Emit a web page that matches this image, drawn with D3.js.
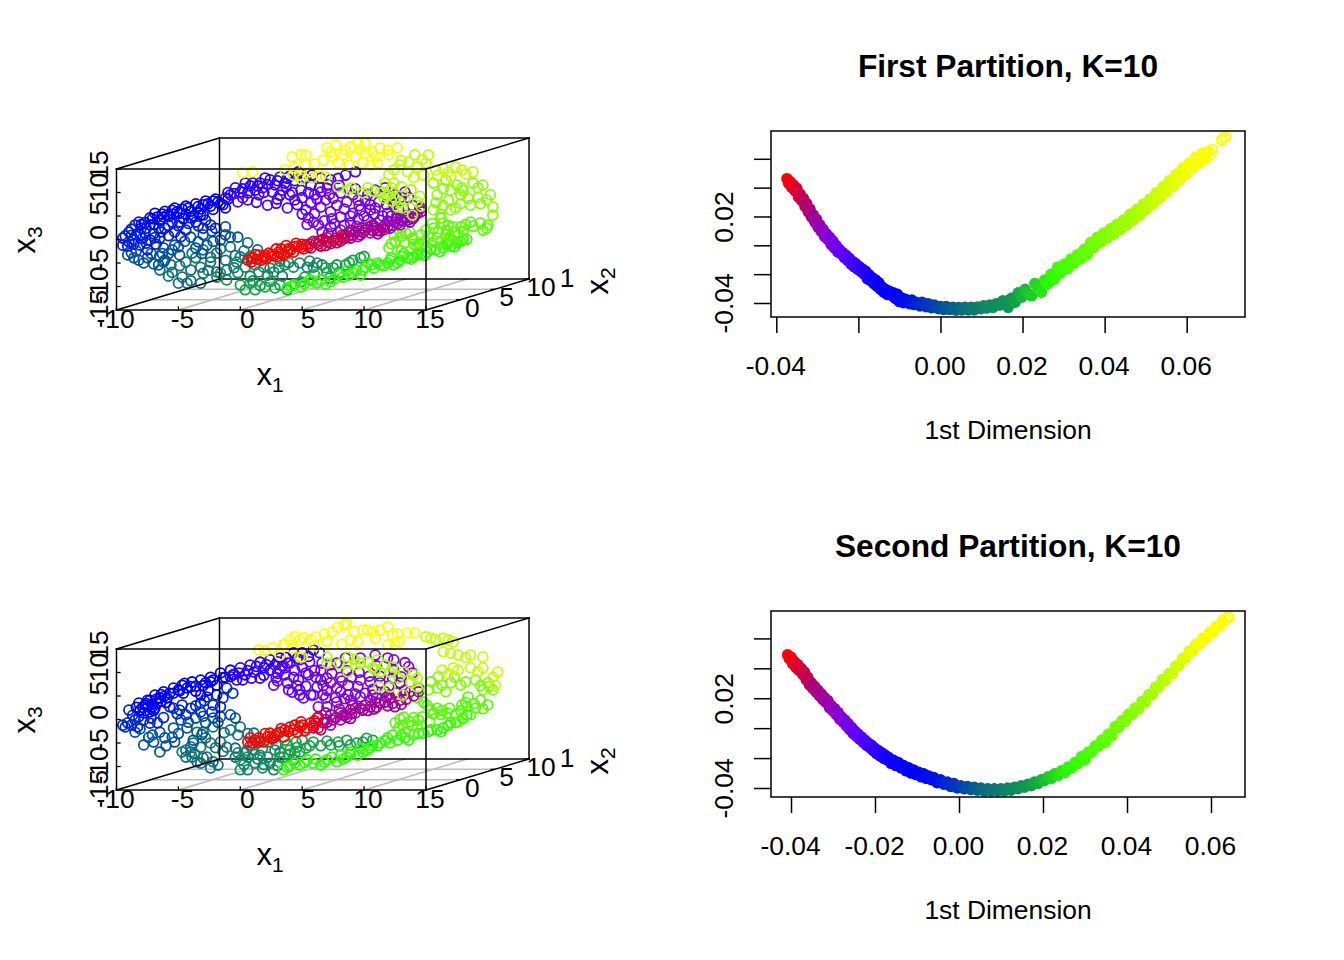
<!DOCTYPE html>
<html><head><meta charset="utf-8">
<script src="https://cdn.jsdelivr.net/npm/d3@7/dist/d3.min.js"></script>
<style>html,body{margin:0;background:#fff}svg{display:block}text{font-family:"Liberation Sans",Arial,sans-serif;fill:#000}</style>
</head><body><svg id="c" width="1344" height="960"></svg>
<script>
// ---------- axis values and labels ----------
const x1Ticks=[-10,-5,0,5,10,15];
const x2Ticks=[0,5,10];
const x3Ticks=[-15,-10,-5,0,5,10,15];
const dimTicks=[-0.04,-0.02,0,0.02,0.04,0.06];
const firstXLabels=["-0.04","","0.00","0.02","0.04","0.06"];
const secondXLabels=["-0.04","-0.02","0.00","0.02","0.04","0.06"];
const dimYLabels=["-0.04","","","0.02","",""];
const titles=["First Partition, K=10","Second Partition, K=10"];
const xDimTitle="1st Dimension";

// colour ramp position -> colour
const tonePos=[0,.1,.2,.27,.34,.4,.48,.54,.64,.74,.82,.9,1];
const toneCol=["#ff0000","#b00070","#8a00d8","#6000ff","#2a00ff","#0000ff","#0050a0","#0f6f7a","#10994f","#2cff00","#6cff00","#a8ff00","#ffff00"];

// ---------- first swiss roll, [projected x1, projected x3] ----------
const a54=[[-6.2,-4.8],[-6.5,-6.5],[-4.4,-4.8],[-4,-6.5],[-3.2,-5.9],[-4.7,-8],[-5,-9.3],[-4.3,-9.3],[-3.2,-9.3],[-3,-2.2],[-1.9,-2.9],[-.8,-1.6],[.6,-.7],[1.4,-2.2],[0,-3.7],[-1.2,-4.4],[-2.4,-4.8],[-1.9,-6.9],[-1.1,-6.5],[-5.5,-7],[-3.6,-3.9],[-4.9,-5.6],[-5.8,-7.8],[-5.6,-5.4],[-4,-8.8],[-3,-7.2],[-2.4,-3.8],[-.4,-3.4],[.3,-2.4],[.9,-4],[-1.6,-2],[-2.6,-6.6],[-.5,-6],[-3.9,-2.9]];
const a60=[[-1.9,-8],[-1.1,-8.6],[-.2,-7.1],[.4,-5.9],[1.5,-6.9],[1.2,-5.4],[2.4,-6.1],[2.7,-6.9],[3.6,-5.4],[4.3,-5.9],[5.4,-5.9],[5.9,-5.9],[6.2,-5],[3.2,-4.6],[.8,-3.6],[-.3,-4.8],[.8,-7.8],[1.9,-5.9],[3.1,-6],[3.9,-4.9],[4.8,-5],[5.6,-4.6],[6.6,-5.4],[-1.6,-7.2],[2.2,-7.6],[3.4,-7.8],[1,-8.8]];
const a65=[[.4,-10.7],[1.2,-10.7],[.8,-9.3],[0,-9.7],[2,-10.1],[2.8,-10.3],[3.8,-10.7],[3.2,-9.7],[4.9,-9],[7.5,-6],[9.1,-4.4],[8.5,-5.4],[6.9,-6],[9.7,-3.9],[7,-7],[1.6,-9.8],[2.4,-9],[4.4,-9.4],[5.2,-8],[6,-7.5],[7.2,-8.2],[7.8,-5.4],[8.8,-4.9],[10,-3.6],[8,-7]];
const a74=[[3.8,-10.3],[4.3,-9.7],[4.9,-10.1],[6.2,-9.3],[6.9,-9.5],[7.3,-9],[8.3,-8],[9.1,-7.1],[9.7,-7.6],[9.9,-6.5],[10.8,-6.1],[11.3,-5.4],[11.9,-5],[12.4,-5.4],[12.9,-4.4],[13.5,-3.9],[14,-3.7],[14.6,-3.1],[15.1,-2.7],[15.8,-2.2],[16.4,-1.8],[17,-1.4],[17.5,-.7],[18,-.1],[10.3,-5],[12.2,-3.9],[13.2,-3],[15,-1.6],[16.8,-.6],[8.6,-6.6],[5.6,-8.6],[4.1,-10],[5.2,-9.4],[5.8,-8.8],[6.5,-8.6],[7.6,-8.4],[8,-7.4],[8.8,-7.6],[9.4,-6.6],[10.1,-5.9],[10.6,-5.4],[11.1,-5],[11.6,-5.6],[12.1,-4.4],[12.7,-5],[13.1,-3.6],[13.8,-4.2],[14.3,-3.2],[14.9,-3.4],[15.4,-2.1],[16.1,-2.6],[16.7,-1],[17.3,-1.6],[17.8,-.4],[18.3,0]];
const a80=[[18,.3],[15.5,-.7],[14.6,1],[13.7,1.6],[12.9,1.6],[12.5,-.5],[13.3,-.7],[14.3,-1.6],[14,-.1],[15,2],[16.2,4.6],[16.4,3.5],[15.6,2.4],[17.8,2.7],[17.2,2.7],[16.7,2],[18.6,3.7],[19.4,3.5],[20,3.1],[19.6,2],[16.6,1],[17.4,1.6],[15.9,.3],[13.9,.3],[12,-1.8],[13,-2.4],[14.4,-.8],[16.2,-.6],[17,-.2],[13,.6],[13.4,1.2],[14,-1],[14.9,-.3],[15.2,.6],[16,1.6],[16.9,.6],[17.6,.8],[18,1.8],[18.8,2.8],[19.9,2.4],[12.4,1.1],[12.2,-.9],[15.5,3.4],[16.8,3],[18.2,3.2]];
const a40=[[-7.3,4.6],[-6.9,5.6],[-6.5,4.1],[-6.1,6],[-5.7,5],[-5.3,6.7],[-4.9,5.6],[-4.4,7.1],[-4,6],[-3.6,7.6],[-3.2,6.5],[-2.8,8.2],[-2.4,7.1],[-2,8.6],[-1.6,7.6],[-1.2,6.7],[-7,3.2],[-6.2,4.8],[-5.4,5.4],[-4.6,4.4],[-3.8,5],[-3,5.2],[-6.7,4.8],[-5.9,5.2],[-5.1,5.9],[-4.7,6.5],[-4.2,6.7],[-3.4,7],[-2.6,7.6],[-1.8,8],[-1,8.6],[-6.3,5.4],[-5.5,6.2],[-3,7.4],[-2.2,8.2],[-8,3.2],[-7.7,3.6],[-7.1,4.4],[-4.4,5.4],[-3.4,5.8],[-2.2,6.4],[-1.4,7.4]];
const a43=[[-9.5,-1.2],[-9.5,.3],[-9,1.6],[-8.5,3.1],[-8.2,3.7],[-9.1,-1.4],[-8.6,-.1],[-8.1,1],[-7.6,2.4],[-7.3,3.1],[-6.6,2.4],[-6.1,2.4],[-5.5,3.7],[-4.9,3.7],[-4,4.6],[-3.2,5.2],[-2.8,4.1],[-2.4,3.1],[-3.6,3.7],[-4.4,2],[-5.3,1.6],[-6.5,.3],[-7.3,-.1],[-8.1,-1.2],[-7.5,-2.2],[-8.8,.9],[-7.9,.2],[-7,1.2],[-9,-.5],[-9.3,.8],[-8.8,2.2],[-8,2.4],[-7.7,1.4],[-6.9,.4],[-6.4,1.6],[-5.8,3],[-5,2.9],[-4.2,3.4],[-3.4,2.9],[-8.4,1],[-8.6,-1],[-7.6,-.8],[-6.8,-1],[-5.8,.8],[-4.8,.6],[-3,2.4],[-2,2.4]];
const a48=[[-9.1,-3.3],[-8.6,-3.9],[-7.8,-5],[-7.5,-3.9],[-6.5,-3.5],[-6.2,-1.8],[-5.3,-1.2],[-4,.5],[-3,1],[-2.3,1.8],[-1.2,2.7],[-1.6,-.1],[-.8,.5],[-.2,.5],[-2.7,-1.2],[-3.6,-1.8],[-4.9,-3.3],[-5.5,-2.2],[-6.6,-5.4],[-6.1,-4.4],[-8.4,-2.4],[-8.8,-2.8],[-8.2,-4.4],[-7.2,-3],[-7,-5.2],[-5.8,-3],[-5,-1.6],[-4.5,-.4],[-3.4,-.5],[-2.2,-.4],[-1.2,1],[-3.1,-3],[-6.3,-3]];
const a34=[[-.8,9.5],[0,10.1],[.8,11.4],[1.6,12],[2.4,12.7],[3.2,13.3],[-1.2,8.8],[-.4,11],[.4,12],[1.2,10.5],[2,13.1],[2.8,11.6],[3.6,12],[4,13.5],[4.7,14.4],[5.3,13.1],[-.5,9.8],[.2,10.8],[.6,9.9],[1.4,11.4],[2.2,11.7],[3,12.5],[3.8,13],[4.4,12.5],[5,14],[5.8,13.7],[1,12],[1.9,10],[-1,10]];
const a30=[[2.2,7.3],[3.8,6.7],[.6,8.4],[-.2,8],[4,9.5],[4.9,10.5],[5.7,11.6],[6.5,13.1],[7.3,12.7],[8.5,13.7],[9.3,14.4],[4.4,8.4],[5.3,6.3],[6,9.5],[3.4,10.5],[2.6,10.1],[1.5,9.5],[1.8,11],[3,8.6],[2.9,7.7],[1.3,7.9],[.2,8.9],[3.2,9.4],[4.6,7.4],[5,8.9],[5.5,10],[6.4,11],[7.1,11.7],[7.9,13],[5,5.4],[4.2,10],[3.7,11.2]];
const a24=[[5.5,4.6],[5.9,3.7],[6.6,1.6],[7.3,2.7],[8.1,4.8],[9.1,5.6],[9.7,6.3],[10.5,6.3],[8.9,3.5],[8.1,2],[7.3,5.9],[6.5,6.9],[5.7,7.8],[6.9,8.4],[7.8,7.3],[8.6,8],[9.5,8.4],[10.9,6.7],[11.9,5.6],[12.7,4.6],[10.3,4.1],[11.3,4.1],[6.5,10.1],[8.1,9.9],[9.1,9.5],[10.1,8.4],[10.9,10.5],[11.7,11],[12.5,9.5],[13.3,10.1],[13.9,7.3],[14.6,6.7],[7.4,4.4],[9.4,2.8],[10.8,2.9],[7.2,9.6],[6,5.5],[6.8,4],[7.6,3.3],[8.4,3],[8.9,5],[9.5,4.3],[10,5],[10.8,5.4],[11.5,5],[12.2,5],[12.8,6.3],[6.2,8.6],[7.5,8.8],[8.4,6.5],[9.6,7.2],[10.5,7.4],[11.2,8],[11.8,7.4],[13,9],[10.3,9.6],[9.3,10.8],[8,11.5],[7,10.9],[6.3,3.1],[5.4,3.2],[7.1,1.2],[12.4,7.4],[13.6,8.9]];
const a17=[[11.7,3.1],[12.1,2.4],[12.5,3.7],[12.9,3.1],[13.3,4.6],[13.7,3.7],[14.1,5.2],[14.6,5.9],[11.9,3.9],[13,4.2],[14,4.6],[11.9,2.7],[12.3,3],[12.7,3.4],[13.1,3.9],[13.5,4.1],[13.9,4.4],[14.3,5.5],[12.6,4.5],[13.6,5.2],[14.5,6.5]];
const a13=[[8.5,1],[8.9,.3],[9.3,1.6],[9.7,1],[10.1,2],[10.5,1.4],[10.9,2.4],[11.3,1.8],[8.8,1.6],[9.5,.6],[10.3,2.6],[11.1,1.2],[11.5,2.6],[8.7,.7],[9.1,.9],[9.9,1.5],[10.7,1.9],[11.1,1.9],[11.6,2.1],[9,2],[9.8,2.4],[10.6,3],[8.4,.2],[9.6,1.8]];
const a07=[[5.3,-1.2],[5.7,-1.8],[6.1,-.7],[6.5,-1.4],[6.9,-.3],[7.3,-.9],[7.7,.3],[8.1,-.3],[5.9,-.4],[6.7,.1],[7.5,-.2],[8.3,.6],[5.5,-1.5],[6.3,-1],[7.1,-.6],[7.9,0],[6.4,-.2],[5.6,-.9],[7,.4],[7.8,-.7],[8.2,.9],[6.9,-1.3]];
const a00=[[.6,-4.4],[1,-3.9],[1.5,-3.3],[1.9,-3.9],[2.3,-2.9],[2.7,-3.5],[3.1,-2.7],[3.5,-3.3],[3.9,-2],[4.3,-2.7],[4.7,-1.4],[5.1,-2],[1.7,-4.4],[2.9,-2],[3.7,-1.3],[4.5,-.8],[.9,-4.8],[1.3,-4.2],[2,-3.4],[2.5,-3.2],[3.3,-3],[3.8,-2.6],[4.1,-2.2],[4.9,-1.7],[5,-1],[1.2,-3.2],[2.1,-4],[3,-3.6],[4.4,-1.5],[3.3,-2]];
const a86=[[15.6,6.3],[17,6.3],[17.4,6.7],[18.6,7.3],[18.4,8.8],[20.4,6.9],[20.4,5.2],[20.2,9.5],[19.6,11.6],[18.8,12],[17.8,9.5],[16.8,8.4],[15.9,9.5],[17,10.5],[17.5,11.6],[17.9,11],[15.6,12],[19.2,9],[16.2,5.4],[16.4,7.2],[17.8,7.6],[19.4,7.6],[19.9,8.4],[18,10.4],[19.2,11],[16.4,10.8],[16.6,12.6],[15.8,7.8]];
const a90=[[11.6,8.8],[12,9.5],[11.3,9.9],[12.4,12],[12.7,6.9],[13.3,8.4],[14.3,8],[13.9,5.2],[11.7,12],[12.5,8.8],[13.1,6.7],[7.9,11.2],[8.7,10.5],[9.9,9.9],[10.3,11],[11.8,9.2],[12.2,8.2],[13,11.2],[13.8,10.6],[14.5,9.2],[12.9,7.9],[10.8,10.3],[9,11],[12.2,11],[14.6,7.1]];
const a93=[[4.3,13.7],[5.8,13.1],[6.9,13.3],[14.1,18],[15.2,18],[13.6,16.5],[12.9,15.9],[14.3,15.4],[12.4,14.8],[13.5,14.4],[14.8,13.7],[15.8,14.8],[16.4,15.2],[17.4,15.4],[17.9,14.8],[18.8,14.4],[15,16.2],[17,13.4],[13,16.8],[14.7,17],[15.9,13.6],[16.8,14.3],[18.2,13.9],[4.9,12.8],[12,13.8],[14,13.2]];
const a99=[[.2,14.2],[1,14.4],[4.2,17.6],[4.9,18],[5.3,18],[7,19.5],[7.7,20.1],[6.7,16.9],[7.4,17.6],[8.9,19.7],[9.5,20.5],[10.1,20.5],[8.3,18],[9.3,17.6],[10.1,18.4],[9.9,16.3],[10.7,18.6],[11.3,19.5],[12.7,19.5],[11.9,19],[11.1,16.3],[7.9,16.3],[3.6,14.8],[4.4,15.2],[4.8,13.7],[5.7,14.4],[6.5,13.5],[6,16.1],[7.3,18.6],[8.5,19],[9.7,19.1],[11,17.7],[12,18],[5.3,16],[10.5,15.8],[8.8,15.8]];

// ---------- second swiss roll ----------
const b54=[[-4.4,-8],[-3.9,-8],[-3.2,-9.3],[-2.4,-10.3],[-1.8,-9.7],[-3.2,-5.9],[-2.4,-5],[-1.1,-5.9],[-3.8,-5],[-2.7,-8],[.4,-7.1],[1.1,-2.9],[1.4,-5],[0,-1.6],[-.8,-2.2],[-2.2,-1.6],[-3,-2.7],[-3.5,-2.7],[-4.4,-6.5],[-4,-6.9],[-4.7,-6.9],[-2.8,-3.9],[-1.6,-4.8],[-.4,-6.1],[-3.7,-7.3],[-3,-8.2],[-2.2,-9],[-1.4,-6.8],[-.4,-8],[.8,-5.6],[.6,-3],[-.2,-3.3],[-1.3,-2.8],[-2,-6],[-4,-5.8],[-3.5,-9]];
const b60=[[0,-10.7],[.6,-10.7],[1.8,-10.3],[2.7,-10.7],[2.2,-8],[1.6,-7.6],[-.2,-7.1],[.6,-8],[0,-8.6],[2.4,-9.3],[1.2,-9.3],[1.8,-6.1],[2.8,-6.5],[2.3,-4.8],[.3,-9.6],[1.4,-8.4],[1,-6.4],[1.9,-9.6],[3,-9.8],[.5,-6.6],[3.2,-7],[2.9,-5.4],[1.1,-7.4]];
const b65=[[7.9,-4.8],[7.3,-5.4],[8.6,-4.4],[9.9,-4.8],[8.9,-5.4],[10.7,-4.4],[5.9,-4.8],[4.6,-5.9],[4,-6.5],[3.5,-8],[4.8,-6.9],[4.3,-8.6],[3.2,-8],[3.6,-4.4],[5,-4.4],[5.3,-6.1],[4.4,-7.2],[3.9,-7.6],[5.6,-5.6],[6.5,-5.6],[7,-4.6],[8,-5.6],[9.4,-5],[10.2,-4],[3.8,-5.4],[4.5,-4.8]];
const b74=[[18.3,1],[17,-.7],[16.4,-1.8],[15.9,-2.2],[15.4,-2.2],[14.8,-2.9],[14,-3.3],[13.3,-3.9],[12.7,-4.4],[11.9,-3.9],[11.3,-5],[10.7,-5.6],[10.3,-6.5],[9.5,-7.6],[8.6,-8],[7.8,-9],[7,-8.6],[5.9,-9.3],[6.5,-9.7],[5.4,-8.6],[4.8,-9.7],[3.5,-10.7],[4,-9.9],[9.7,-6.1],[8.9,-6.9],[8.1,-7.6],[12.3,-3.3],[3.8,-10.2],[4.4,-9.3],[5.2,-9.2],[6.1,-8.4],[6.8,-9.1],[7.4,-8],[8.3,-8.4],[8.9,-7.5],[9.9,-7],[10.5,-6],[11.1,-5.6],[11.7,-4.5],[12.1,-5],[13,-3.4],[13.6,-4.4],[14.4,-3],[15.2,-2.6],[16.2,-2.6],[16.8,-1.3],[17.4,-.6],[18,.2]];
const b79=[[20,3.1],[19.4,4.1],[18.3,2.7],[17.6,-.5],[16.7,1.4],[15.9,2.4],[14.8,3.7],[14.3,4.6],[18.4,4.8],[19,2.4],[17.9,3.1],[17.4,1],[18.6,1],[16.2,1],[15.4,2],[14.4,-.1],[13.2,.5],[13.7,-.5],[13.1,-1.2],[12.5,-.7],[14.3,-1.6],[13.3,-2.7],[12.9,.1],[14,.4],[14.7,.6],[15.3,-.5],[16.3,1.9],[16.9,2.4],[17.8,1.9],[18.2,3.6],[18.9,3.4],[15.1,3],[15.6,1.2],[13.9,-1.2],[12.8,-1.8],[19.6,2.3]];
const b40=[[-8.2,3.5],[-7.5,2.7],[-7.8,1.4],[-7.3,1.6],[-6.7,3.5],[-7.5,4.1],[-6.9,5.2],[-6.2,5.9],[-5.4,6.7],[-5.9,4.6],[-4.7,7.3],[-3.9,8],[-3.2,8.4],[-2.4,9],[-1.6,9.9],[-.8,10.5],[-4.6,5.6],[-3.2,5.2],[-1.9,7.3],[-8.1,2],[-7.1,2.7],[-7.7,3.1],[-7.3,4.1],[-6.9,2.4],[-6.5,4.6],[-5.7,5.6],[-5,6.3],[-4.3,6.7],[-3.6,7.1],[-2.8,7.8],[-2.2,8.4],[-1.2,9],[-7.6,3.4],[-7.1,3.2],[-6.4,3.9],[-6.1,5],[-5.4,5.6],[-4.9,6.1],[-4,7],[-3,7.2],[-2.4,8],[-1.4,8.9],[-7.9,2.6],[-7,1.9],[-6.8,4.3],[-6,3.6],[-8.4,2.6],[-6.4,5.3],[-3.6,6],[-2.6,6.2],[-4.5,7.7],[-.5,9.6]];
const b44=[[-9.1,-.7],[-9,2],[-8.3,-1.6],[-7.8,-.1],[-6.7,-.7],[-5.7,2.7],[-4.4,1],[-4.7,3.1],[-3.2,3.5],[-2.2,3.1],[-1.6,2.7],[-2.7,4.8],[-1.1,6.7],[-1.9,5.2],[-5.4,2.4],[-4,2.4],[-3.2,1.6],[-2.3,1.6],[-8.5,-.1],[-9.5,-1.2],[-9.3,-1.6],[-8.7,.9],[-8.2,.6],[-7.3,-.8],[-6.2,.4],[-5.1,1.2],[-3.6,2.9],[-2.9,4],[-1.4,4.6],[-.6,5.6],[-4.9,2],[-8.8,-1.2],[-7.2,.3]];
const b48=[[-6.5,-6.9],[-7.8,-5.4],[-7,-4.8],[-5.3,-4.8],[-5.4,-1.8],[-4.3,-1.8],[-3.6,.3],[-2.2,.3],[-.8,1],[-.4,.3],[-6.5,-2.7],[-8.5,-2.7],[-3.8,-4.4],[-2.8,-.7],[-4.8,-.1],[-7.1,-3.3],[-6.1,-3.9],[-6,-5.6],[-7.4,-3.8],[-8.1,-2],[-5,-3],[-4.2,-.6],[-3,.7],[-1.6,.6],[-5.5,-3.8],[-3.1,-3.2],[-1.8,-.6]];
const b34=[[0,11],[.8,11.6],[1.6,12.2],[2.4,12.7],[3.2,13.1],[.2,8.4],[-.6,9.5],[1.1,10.1],[1.9,11],[2.8,11.6],[3.8,12],[4.3,14.2],[5,14.2],[5.9,14.8],[1.6,8.8],[-.3,8.4],[.4,9.5],[2.4,10.5],[3.4,11.4],[.6,10.4],[1.3,11.3],[2.1,11.7],[3,12.3],[3.7,13.2],[4.6,13],[5.5,13.4],[6.4,14.2],[1.9,9.4],[.9,8.8],[-.1,9.9],[-.8,9.1],[3,9.8]];
const b27=[[2.7,7.3],[3.8,7.8],[4.8,6.3],[5.1,4.6],[5.9,5.2],[4.7,8.4],[5.5,9.5],[6.5,8.4],[3.2,10.5],[4.3,9],[5.3,9.9],[6.1,9],[4,12],[4.8,5.2],[5.7,5.2],[6.7,5.2],[5,11.2],[4.4,10.5],[3.6,9.5],[4.8,12.7],[3,8.2],[3.9,6.3],[4.6,7.2],[5.3,7.1],[6.2,6.9],[6,10.4],[6.6,12],[5.6,12.3],[3.6,11],[2.9,8.9],[4.2,5.8],[7,8.8]];
const b22=[[7.8,6.7],[7.3,7.8],[8.1,9],[7.8,12],[8.7,7.3],[9.7,8.4],[10.5,8],[8.7,5.2],[9.7,4.8],[10.7,5.2],[12.4,12.7],[11.9,13.1],[13.6,11.2],[6.3,2.7],[7,2.7],[7.8,3.7],[8.9,4.1],[11.3,7.8],[12.4,10.5],[12.9,7.8],[14.4,6.7],[8.5,13.1],[9.7,13.1],[10.9,13.7],[6.5,10.5],[7.3,11.6],[8.1,5.9],[11.7,5.9],[6.9,4.6],[7.7,4.7],[8.4,4.4],[9.3,5.4],[10.1,5.6],[11,4.6],[11.8,4.7],[12.6,5.7],[13.3,6.2],[7.4,9.8],[8.6,10.4],[9.6,10],[10.4,9.2],[11.3,9.2],[12.3,8.8],[13,9.1],[13.9,9.9],[13.3,12.1],[11,11.4],[9.5,7],[10.7,6.4],[12,7.1],[6.7,7.2],[7,6.2],[8.2,8.2],[9,9]];
const b14=[[6.3,.5],[7.3,1],[8.1,1.4],[8.9,2],[9.7,2.4],[10.5,2.7],[11.3,3.5],[12.5,2.7],[13.2,5.2],[12.1,4.6],[8.6,.5],[7.5,-.1],[6.7,-.7],[5.9,-1.8],[9.3,1.4],[10.1,3.1],[10.9,3.7],[11.7,3.7],[8.1,-.1],[9.3,2.4],[10.5,4.1],[6.5,-2.2],[7.3,-1.2],[8.5,1],[12.9,4.1],[13.7,5.9],[6.1,-.8],[6.9,0],[7.7,.4],[8.3,.9],[9,1.2],[9.9,2],[10.3,1.9],[11,2.6],[11.9,2.9],[12.3,3.4],[13,3.2],[13.4,4.3],[7,-.6],[8.9,.2],[6.9,1.4],[8,2.2],[9.1,3],[10.8,2.2],[12,5.2],[14,5],[14.4,5.9]];
const b00=[[.6,-4.8],[1.2,-4.4],[2.2,-3.7],[2.7,-3.9],[3.2,-2.7],[4,-1.6],[4.6,-2.7],[5.4,-1.8],[6.2,.3],[6.3,-1.8],[1.5,-3.9],[3.5,-3.7],[5,-1.2],[1.9,-4.8],[4.8,-1.6],[2.8,-3.3],[3.6,-2.2],[5.7,-.7],[.8,-3.9],[2.4,-2.9],[4.3,-2.2],[1,-5],[1.6,-4.6],[2.5,-4],[3,-3],[3.9,-2.6],[4.4,-1.2],[5.2,-2.4],[5.9,-1.3],[6,-.3],[2,-3],[3.3,-1.9],[4.9,-.5]];
const b84=[[15.4,8],[15.9,6.7],[17,7.8],[19.6,6.3],[20.4,6.3],[16.6,5.9],[15.2,6.3],[17.8,7.3],[19,8.4],[20,7.8],[16.3,7.3],[18.2,8],[19.4,7.2],[20.1,7],[16,9.1],[17.3,9]];
const b90=[[4.8,13.3],[7,13.3],[7,12],[8.7,10.1],[8.7,13.3],[9.7,12],[11.1,12.7],[11.3,10.1],[12.1,10.1],[13.2,10.1],[14.3,8.8],[14.3,6.9],[12.1,6.9],[11.2,6.9],[13.1,5.2],[9.3,11.6],[10.7,11],[10.3,12.2],[11.7,11.6],[13.8,7.8],[12.8,8.8],[8,11.8],[9.2,12.8],[10.9,10.5],[12.3,11.2],[14,9.5]];
const b93=[[15,17.6],[15.4,17.3],[16.4,17.3],[17.2,16.5],[16.4,14.4],[17.6,13.7],[18.6,13.7],[19.6,13.3],[16.3,10.5],[18.6,11],[19.6,11],[17.6,10.5],[20.8,10.1],[20.4,9],[20.6,7.3],[15.8,17],[16.8,16.9],[17,14.1],[18.2,13.2],[17.2,11],[19.2,10.2],[16.8,9.7]];
const b99=[[3.6,15.9],[4.4,17.6],[5.1,17.4],[6.1,17.6],[7.4,18.6],[8.6,20.5],[8.4,20.1],[9.9,19],[10.7,18.6],[11.3,19],[11.9,19.7],[13.5,18.4],[14.1,18.4],[12.3,18],[9.5,16.5],[11.9,15.9],[1.5,14.8],[2.6,15.2],[3.5,15.9],[5,13.3],[3.2,13.7],[4.8,16.9],[4,16.9],[5.7,16.9],[8.9,16.9],[10.9,17.3],[12.5,15.9],[6.8,18.2],[7.9,19.6],[9.2,18.7],[10.3,19],[12.7,18.2],[2,14.6],[4.2,15.2],[12.8,16.6],[6,15.6],[7,16.6],[8.2,16]];

// ---------- first embedding, [1st dimension, 2nd dimension] ----------
const p0=[[-.0374,.0462],[-.0370,.0430],[-.0366,.0440],[-.0362,.0400],[-.0358,.0418],[-.0354,.0378],[-.0350,.0395],[-.0346,.0335],[-.0342,.0355]];
const p07=[[-.0338,.0310],[-.0334,.0325],[-.0330,.0270],[-.0326,.0290],[-.0322,.0232],[-.0318,.0252],[-.0314,.0195],[-.0310,.0212]];
const p14=[[-.0306,.0160],[-.0302,.0180],[-.0298,.0125],[-.0294,.0142],[-.0290,.0095],[-.0286,.0110],[-.0282,.0060],[-.0278,.0080]];
const p20=[[-.0274,.0040],[-.0270,.0055],[-.0266,.0005],[-.0262,.0030],[-.0258,-.0020],[-.0254,-.0002],[-.0250,-.0045],[-.0246,-.0030]];
const p26=[[-.0242,-.0060],[-.0238,-.0050],[-.0234,-.0085],[-.0230,-.0070],[-.0226,-.0105],[-.0222,-.0090],[-.0218,-.0130],[-.0214,-.0112],[-.0210,-.0150],[-.0206,-.0128]];
const p32=[[-.0202,-.0165],[-.0198,-.0148],[-.0194,-.0180],[-.0190,-.0165],[-.0186,-.0200],[-.0182,-.0180],[-.0178,-.0232],[-.0174,-.0205],[-.0170,-.0245],[-.0166,-.0225]];
const p38=[[-.0162,-.0265],[-.0158,-.0240],[-.0154,-.0285],[-.0150,-.0260],[-.0146,-.0305],[-.0142,-.0290],[-.0138,-.0325],[-.0134,-.0305],[-.0130,-.0340],[-.0125,-.0318],[-.0120,-.0345],[-.0115,-.0330],[-.0110,-.0368],[-.0105,-.0340],[-.0100,-.0390],[-.0095,-.0365],[-.0090,-.0398],[-.0085,-.0375],[-.0080,-.0385]];
const p42=[[-.0075,-.0405],[-.0070,-.0380],[-.0065,-.0410],[-.0060,-.0395],[-.0050,-.0420],[-.0045,-.0395],[-.0035,-.0425],[-.0030,-.0405]];
const p46=[[-.0022,-.0432],[-.0015,-.0415],[-.0005,-.0440],[.0000,-.0425],[.0008,-.0445],[.0014,-.0425]];
const p50=[[.0022,-.0445],[.0030,-.0430],[.0038,-.0450],[.0045,-.0432],[.0052,-.0448],[.0060,-.0430]];
const p55=[[.0068,-.0448],[.0075,-.0430],[.0082,-.0448],[.0090,-.0428],[.0098,-.0440],[.0105,-.0420]];
const p60=[[.0112,-.0435],[.0120,-.0415],[.0128,-.0430],[.0136,-.0405],[.0144,-.0415],[.0152,-.0385],[.0160,-.0390],[.0165,-.0430],[.0170,-.0375]];
const p64=[[.0175,-.0365],[.0182,-.0395],[.0190,-.0330],[.0198,-.0360],[.0206,-.0305],[.0214,-.0335],[.0222,-.0350]];
const p70=[[.0230,-.0265],[.0238,-.0300],[.0246,-.0325],[.0254,-.0240],[.0262,-.0265],[.0270,-.0200],[.0278,-.0235]];
const p76=[[.0286,-.0150],[.0294,-.0190],[.0302,-.0130],[.0310,-.0160],[.0318,-.0095],[.0326,-.0125],[.0334,-.0065],[.0342,-.0095],[.0350,-.0030],[.0358,-.0065]];
const p82=[[.0366,.0020],[.0374,-.0015],[.0382,.0055],[.0390,.0020],[.0398,.0085],[.0406,.0050],[.0414,.0115],[.0422,.0075],[.0430,.0145],[.0438,.0110]];
const p88=[[.0446,.0175],[.0454,.0140],[.0462,.0215],[.0470,.0175],[.0478,.0250],[.0486,.0210],[.0494,.0285],[.0502,.0250],[.0510,.0320],[.0518,.0285]];
const p94=[[.0526,.0365],[.0534,.0325],[.0542,.0405],[.0550,.0365],[.0558,.0450],[.0566,.0405],[.0574,.0490],[.0582,.0450],[.0590,.0535],[.0598,.0490]];
const p98=[[.0606,.0570],[.0614,.0535],[.0622,.0610],[.0630,.0570],[.0638,.0640],[.0646,.0600],[.0652,.0650]];
const pEnd=[[.0658,.0625],[.0663,.0665],[.0685,.0730],[.0690,.0745],[.0695,.0755]];

// ---------- second embedding ----------
const q0=[[-.0408,.0490],[-.0404,.0465],[-.0400,.0475],[-.0396,.0430],[-.0392,.0445],[-.0388,.0405],[-.0384,.0425],[-.0380,.0385],[-.0376,.0400],[-.0372,.0360],[-.0368,.0375]];
const q07=[[-.0364,.0325],[-.0360,.0340],[-.0356,.0290],[-.0352,.0305],[-.0348,.0265],[-.0344,.0280],[-.0340,.0240],[-.0336,.0255],[-.0332,.0215],[-.0328,.0230]];
const q14=[[-.0324,.0190],[-.0320,.0205],[-.0316,.0170],[-.0312,.0185],[-.0308,.0135],[-.0304,.0150],[-.0300,.0115],[-.0296,.0130],[-.0292,.0090],[-.0288,.0105]];
const q20=[[-.0284,.0060],[-.0280,.0075],[-.0276,.0040],[-.0272,.0055],[-.0268,.0015],[-.0264,.0030],[-.0260,-.0010],[-.0256,.0005],[-.0252,-.0035],[-.0248,-.0020]];
const q26=[[-.0244,-.0055],[-.0240,-.0040],[-.0236,-.0075],[-.0232,-.0060],[-.0228,-.0095],[-.0224,-.0080],[-.0220,-.0115],[-.0216,-.0100],[-.0212,-.0130],[-.0208,-.0115]];
const q32=[[-.0204,-.0150],[-.0200,-.0135],[-.0196,-.0170],[-.0192,-.0150],[-.0188,-.0185],[-.0184,-.0165],[-.0180,-.0200],[-.0176,-.0180],[-.0172,-.0210],[-.0168,-.0195]];
const q38=[[-.0162,-.0235],[-.0156,-.0215],[-.0150,-.0250],[-.0144,-.0230],[-.0138,-.0265],[-.0132,-.0250],[-.0126,-.0285],[-.0120,-.0265],[-.0114,-.0300],[-.0108,-.0280],[-.0102,-.0310],[-.0096,-.0295],[-.0090,-.0325],[-.0084,-.0305],[-.0078,-.0335],[-.0072,-.0320],[-.0066,-.0345],[-.0060,-.0330]];
const q42=[[-.0052,-.0365],[-.0044,-.0345],[-.0036,-.0375],[-.0028,-.0360],[-.0020,-.0390],[-.0012,-.0370],[-.0004,-.0400],[.0004,-.0385]];
const q47=[[.0012,-.0405],[.0020,-.0390],[.0028,-.0410],[.0036,-.0395],[.0044,-.0415],[.0052,-.0400]];
const q53=[[.0060,-.0420],[.0068,-.0405],[.0076,-.0420],[.0084,-.0405],[.0092,-.0420],[.0100,-.0405],[.0108,-.0420],[.0116,-.0400]];
const q60=[[.0124,-.0415],[.0132,-.0395],[.0140,-.0405],[.0148,-.0385],[.0156,-.0395],[.0164,-.0375],[.0172,-.0385],[.0180,-.0360]];
const q66=[[.0188,-.0370],[.0196,-.0345],[.0204,-.0350],[.0212,-.0325],[.0220,-.0335],[.0228,-.0305],[.0236,-.0315],[.0244,-.0285]];
const q73=[[.0252,-.0295],[.0260,-.0260],[.0268,-.0265],[.0276,-.0230],[.0284,-.0235],[.0292,-.0190],[.0300,-.0210],[.0308,-.0160]];
const q78=[[.0316,-.0160],[.0324,-.0120],[.0332,-.0120],[.0340,-.0080],[.0348,-.0095],[.0356,-.0040],[.0364,-.0050],[.0372,.0010]];
const q83=[[.0380,.0005],[.0388,.0050],[.0396,.0045],[.0404,.0095],[.0412,.0090],[.0420,.0135],[.0428,.0130],[.0436,.0180]];
const q88=[[.0444,.0175],[.0452,.0225],[.0460,.0225],[.0468,.0275],[.0476,.0275],[.0484,.0325],[.0492,.0320],[.0500,.0365]];
const q94=[[.0508,.0365],[.0516,.0415],[.0524,.0420],[.0532,.0465],[.0540,.0470],[.0548,.0515],[.0556,.0515],[.0564,.0560]];
const q99=[[.0572,.0560],[.0580,.0600],[.0588,.0600],[.0596,.0640],[.0604,.0640],[.0612,.0680],[.0620,.0680],[.0628,.0720]];
const qEnd=[[.0636,.0725],[.0640,.0745],[.0643,.0740]];

// band order is paint order
const roll1=[[.54,a54],[.6,a60],[.65,a65],[.74,a74],[.8,a80],[.48,a48],[.43,a43],[.4,a40],[.34,a34],[.3,a30],[.24,a24],[.17,a17],[.13,a13],[.07,a07],[0,a00],[.86,a86],[.9,a90],[.93,a93],[1,a99]];
const roll2=[[.54,b54],[.6,b60],[.65,b65],[.74,b74],[.79,b79],[.48,b48],[.44,b44],[.4,b40],[.34,b34],[.27,b27],[.22,b22],[.14,b14],[0,b00],[.84,b84],[.9,b90],[.93,b93],[1,b99]];
const curve1=[[0,p0],[.07,p07],[.14,p14],[.2,p20],[.26,p26],[.32,p32],[.38,p38],[.42,p42],[.46,p46],[.5,p50],[.55,p55],[.6,p60],[.64,p64],[.7,p70],[.76,p76],[.82,p82],[.88,p88],[.94,p94],[.99,p98]];
const curve2=[[0,q0],[.07,q07],[.14,q14],[.2,q20],[.26,q26],[.32,q32],[.38,q38],[.42,q42],[.47,q47],[.53,q53],[.6,q60],[.66,q66],[.73,q73],[.78,q78],[.83,q83],[.88,q88],[.94,q94],[.99,q99]];

// ---------- drawing ----------
const svg=d3.select("#c");
const tone=d3.scaleLinear().domain(tonePos).range(toneCol).interpolate(d3.interpolateRgb);
const FONT=26.4, R=4.9, SW=1.8;

function rings(g,bands,sx,sy){
  bands.forEach(([t,pts])=>{
    g.append("g").selectAll("circle").data(pts).join("circle")
      .attr("cx",d=>sx(d[0])).attr("cy",d=>sy(d[1])).attr("r",R)
      .attr("fill","none").attr("stroke",tone(t)).attr("stroke-width",SW);
  });
}
// the embeddings overlap so densely that their marks read as a solid ribbon
function ribbon(g,bands,sx,sy,tail){
  bands.forEach(([t,pts],b)=>{
    const next=b+1<bands.length?bands[b+1][0]:1;
    const toneAt=d3.scaleLinear().domain([0,pts.length]).range([t,next]);
    g.append("g").selectAll("circle").data(pts).join("circle")
      .attr("cx",d=>sx(d[0])).attr("cy",d=>sy(d[1])).attr("r",R)
      .attr("fill",(d,i)=>tone(toneAt(i))).attr("stroke",(d,i)=>tone(toneAt(i))).attr("stroke-width",SW);
  });
  g.append("g").selectAll("circle").data(tail).join("circle")
    .attr("cx",d=>sx(d[0])).attr("cy",d=>sy(d[1])).attr("r",R)
    .attr("fill","none").attr("stroke",tone(1)).attr("stroke-width",SW);
}
function seg(g,x1,y1,x2,y2,col,w){
  g.append("line").attr("x1",x1).attr("y1",y1).attr("x2",x2).attr("y2",y2)
   .attr("stroke",col||"#000").attr("stroke-width",w||1.5).attr("stroke-linecap","square");
}
function sub(g,transform,anchor,base,idx){
  const t=g.append("text").attr("transform",transform).attr("text-anchor",anchor).attr("font-size",31);
  t.append("tspan").text(base);
  t.append("tspan").attr("font-size",21).attr("dy",7).text(idx);
}
function drawRoll(dy,bands){
  const g=svg.append("g").attr("transform",`translate(0,${dy})`);
  const sx=d3.scaleLinear().domain([-10,15]).range([116.5,426]);
  const sz=d3.scaleLinear().domain([-15,15]).range([310,169]);
  const depth=d3.scaleLinear().domain([-5,10]).range([0,1]);
  const DX=103,DY=-31,L=sx(-10),Rt=sx(15),T=sz(15),B=sz(-15);
  // floor grid
  x1Ticks.slice(1,5).forEach(v=>seg(g,sx(v),B,sx(v)+DX,B+DY,"#bdbdbd",1.5));
  x2Ticks.slice(0,2).forEach(v=>{const f=depth(v);seg(g,L+DX*f,B+DY*f,Rt+DX*f,B+DY*f,"#bdbdbd",1.5);});
  // rear floor edge lies under the points
  seg(g,L+DX,B+DY,Rt+DX,B+DY);
  rings(g,bands,sx,sz);
  // remaining box edges
  seg(g,L,T,Rt,T);seg(g,L,B,Rt,B);seg(g,L,T,L,B);seg(g,Rt,T,Rt,B);
  seg(g,L+DX,T+DY,Rt+DX,T+DY);seg(g,L+DX,T+DY,L+DX,B+DY);seg(g,Rt+DX,T+DY,Rt+DX,B+DY);
  seg(g,L,T,L+DX,T+DY);seg(g,Rt,T,Rt+DX,T+DY);seg(g,L,B,L+DX,B+DY);seg(g,Rt,B,Rt+DX,B+DY);
  // ticks and tick labels
  const x1Nudge=[-1,4,7,6,4,4];
  x1Ticks.forEach((v,i)=>{
    seg(g,sx(v),B,sx(v),B-3,"#000",1.3);
    g.append("text").attr("x",sx(v)+x1Nudge[i]).attr("y",328).attr("text-anchor","middle").attr("font-size",FONT).text(v);
  });
  const x3Nudge=[-1,-1,-3,-7,-8,-5,-4];
  x3Ticks.forEach((v,i)=>{
    seg(g,L,sz(v),L+3.5,sz(v),"#000",1.3);
    g.append("text").attr("transform",`translate(108,${sz(v)+x3Nudge[i]}) rotate(-90)`).attr("text-anchor","middle").attr("font-size",FONT).text(v);
  });
  x2Ticks.forEach(v=>{
    const f=depth(v);
    seg(g,Rt+DX*f,B+DY*f,Rt+DX*f-3.5,B+DY*f,"#000",1.3);
    g.append("text").attr("x",Rt+DX*f+12).attr("y",B+DY*f+17).attr("text-anchor","middle").attr("font-size",FONT).text(v);
  });
  g.append("text").attr("x",567).attr("y",287).attr("text-anchor","middle").attr("font-size",FONT).text("1");
  sub(g,"translate(270,385)","middle","x","1");
  sub(g,"translate(35,240) rotate(-90)","middle","x","3");
  sub(g,"translate(608,281) rotate(-90)","middle","x","2");
}
function drawCurve(dy,bands,tail,xr,yr,xl,title){
  const g=svg.append("g").attr("transform",`translate(0,${dy})`);
  const L=771,Rt=1245,T=131,B=317;
  const sx=d3.scaleLinear().domain([-.04,.06]).range(xr);
  const sy=d3.scaleLinear().domain([-.04,.06]).range(yr);
  ribbon(g,bands,sx,sy,tail);
  g.append("rect").attr("x",L).attr("y",T).attr("width",Rt-L).attr("height",B-T)
    .attr("fill","none").attr("stroke","#000").attr("stroke-width",1.5);
  const ax=g.append("g").attr("transform",`translate(0,${B})`)
    .call(d3.axisBottom(sx).tickValues(dimTicks).tickSize(16).tickFormat((d,i)=>xl[i]));
  ax.select(".domain").attr("stroke","none");
  ax.selectAll("line").attr("stroke-width",1.5);
  ax.selectAll("text").attr("font-size",FONT).attr("y",0).attr("dy",0).attr("transform",`translate(-1,${375-B})`);
  const ay=g.append("g").attr("transform",`translate(${L},0)`)
    .call(d3.axisLeft(sy).tickValues(dimTicks).tickSize(17).tickFormat((d,i)=>dimYLabels[i]));
  ay.select(".domain").attr("stroke","none");
  ay.selectAll("line").attr("stroke-width",1.5);
  ay.selectAll("text").attr("font-size",FONT).attr("x",0).attr("dy",0).attr("text-anchor","middle")
    .attr("transform",`translate(${733-L},0) rotate(-90)`);
  g.append("text").attr("x",1008).attr("y",77).attr("text-anchor","middle").attr("font-size",31.7).attr("font-weight","bold").text(title);
  g.append("text").attr("x",1008).attr("y",439).attr("text-anchor","middle").attr("font-size",FONT).text(xDimTitle);
}
drawRoll(0,roll1);
drawRoll(480,roll2);
drawCurve(0,curve1,pEnd,[776.3,1186.7],[303,158.8],firstXLabels,titles[0]);
drawCurve(480,curve2,qEnd,[791,1211],[308,158.4],secondXLabels,titles[1]);
</script></body></html>
